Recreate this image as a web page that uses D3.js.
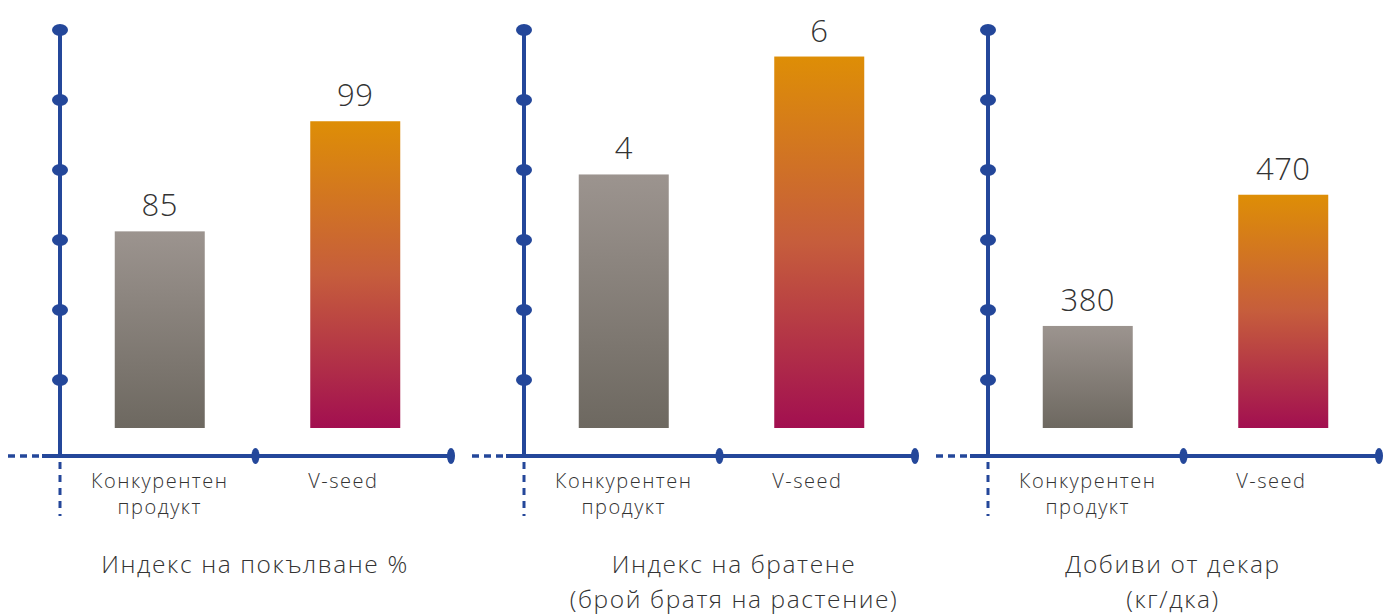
<!DOCTYPE html>
<html>
<head>
<meta charset="utf-8">
<script src="https://cdn.jsdelivr.net/npm/d3@7"></script>
<style>
  body { margin: 0; background: #fff; }
  text { font-family: 'Open Sans', 'Noto Sans', sans-serif; fill: #333; }
</style>
</head>
<body>
<div id="chart"></div>
<script>
// data
const categories = ['Конкурентен продукт', 'V-seed'];
const germination = [85, 99];
const tillering = [4, 6];
const yieldPerDecare = [380, 470];
const titles = [
  ['Индекс на покълване %'],
  ['Индекс на братене', '(брой братя на растение)'],
  ['Добиви от декар', '(кг/дка)'],
];
// value domains (axis starts are not zero in the original)
const domains = [[60, 110.6], [-0.3, 6.45], [310, 583]];

const panels = [germination, tillering, yieldPerDecare].map((values, i) => ({
  values,
  title: titles[i],
  domain: domains[i],
}));

const width = 1388;
const height = 616;
const axisColor = '#24479a';

const svg = d3.select('#chart')
  .append('svg')
  .attr('width', width)
  .attr('height', height);

const defs = svg.append('defs');
const grey = defs.append('linearGradient')
  .attr('id', 'grad-grey')
  .attr('x1', 0).attr('y1', 0).attr('x2', 0).attr('y2', 1);
grey.append('stop').attr('offset', '0%').attr('stop-color', '#9c948f');
grey.append('stop').attr('offset', '100%').attr('stop-color', '#6d6860');
const hot = defs.append('linearGradient')
  .attr('id', 'grad-hot')
  .attr('x1', 0).attr('y1', 0).attr('x2', 0).attr('y2', 1);
hot.append('stop').attr('offset', '0%').attr('stop-color', '#de8e06');
hot.append('stop').attr('offset', '50%').attr('stop-color', '#c65d3c');
hot.append('stop').attr('offset', '100%').attr('stop-color', '#a20f50');

// panel placement
const panelX = d3.scaleBand()
  .domain(d3.range(panels.length))
  .range([60, 60 + 464 * 3]);
const panelWidth = 391;
const baseY = 456;
const barBottom = 428;
const topY = 30;
const barWidth = 90;

panels.forEach((p, i) => {
  const g = svg.append('g')
    .attr('transform', `translate(${panelX(i)},0)`);

  const x = d3.scaleBand()
    .domain(categories)
    .range([0, panelWidth]);
  const mid = d => x(d) + x.bandwidth() / 2 + 2;

  const y = d3.scaleLinear()
    .domain(p.domain)
    .range([barBottom, topY]);

  // bars
  g.selectAll('rect.bar')
    .data(p.values)
    .enter()
    .append('rect')
    .attr('class', 'bar')
    .attr('x', (d, j) => mid(categories[j]) - barWidth / 2)
    .attr('y', d => y(d))
    .attr('width', barWidth)
    .attr('height', d => barBottom - y(d))
    .attr('fill', (d, j) => (j === 0 ? 'url(#grad-grey)' : 'url(#grad-hot)'));

  // value labels
  g.selectAll('text.value')
    .data(p.values)
    .enter()
    .append('text')
    .attr('class', 'value')
    .attr('x', (d, j) => mid(categories[j]))
    .attr('y', d => y(d) - 15)
    .attr('text-anchor', 'middle')
    .attr('font-size', 31)
    .attr('font-weight', 300)
    .attr('letter-spacing', 0.5)
    .text(d => d);

  // y axis line with dot ticks
  g.append('line')
    .attr('x1', 0).attr('x2', 0)
    .attr('y1', topY).attr('y2', baseY)
    .attr('stroke', axisColor)
    .attr('stroke-width', 4);
  g.append('line')
    .attr('x1', 0).attr('x2', 0)
    .attr('y1', baseY + 6).attr('y2', 516)
    .attr('stroke', axisColor)
    .attr('stroke-width', 3)
    .attr('stroke-dasharray', '7,6');
  g.selectAll('ellipse.tick')
    .data(d3.range(6))
    .enter()
    .append('ellipse')
    .attr('class', 'tick')
    .attr('cx', 0)
    .attr('cy', k => topY + k * 70)
    .attr('rx', 8)
    .attr('ry', 6)
    .attr('fill', axisColor);

  // x axis
  g.append('line')
    .attr('x1', -52).attr('x2', -14)
    .attr('y1', baseY).attr('y2', baseY)
    .attr('stroke', axisColor)
    .attr('stroke-width', 3.5)
    .attr('stroke-dasharray', '7,5');
  g.append('line')
    .attr('x1', -18).attr('x2', panelWidth)
    .attr('y1', baseY).attr('y2', baseY)
    .attr('stroke', axisColor)
    .attr('stroke-width', 4);
  g.selectAll('ellipse.cap')
    .data(categories)
    .enter()
    .append('ellipse')
    .attr('class', 'cap')
    .attr('cx', d => x(d) + x.bandwidth())
    .attr('cy', baseY)
    .attr('rx', 4)
    .attr('ry', 8)
    .attr('fill', axisColor);

  // category labels
  g.selectAll('text.cat')
    .data(categories)
    .enter()
    .append('text')
    .attr('class', 'cat')
    .attr('text-anchor', 'middle')
    .attr('font-size', 20)
    .attr('font-weight', 300)
    .attr('letter-spacing', 1.5)
    .each(function (d, j) {
      const words = d.split(' ');
      const cx = x(d) + x.bandwidth() / 2 + (j === 0 ? 2 : -10);
      words.forEach((w, k) => {
        d3.select(this).append('tspan')
          .attr('x', cx)
          .attr('y', 488 + k * 26)
          .text(w);
      });
    });

  // panel title
  const t = g.append('text')
    .attr('text-anchor', 'middle')
    .attr('font-size', 24.5)
    .attr('font-weight', 300)
    .attr('letter-spacing', 1.6);
  p.title.forEach((line, k) => {
    t.append('tspan')
      .attr('x', i === 0 ? 195 : (i === 1 ? 210 : 185))
      .attr('y', 573 + k * 35)
      .text(line);
  });
});
</script>
</body>
</html>
